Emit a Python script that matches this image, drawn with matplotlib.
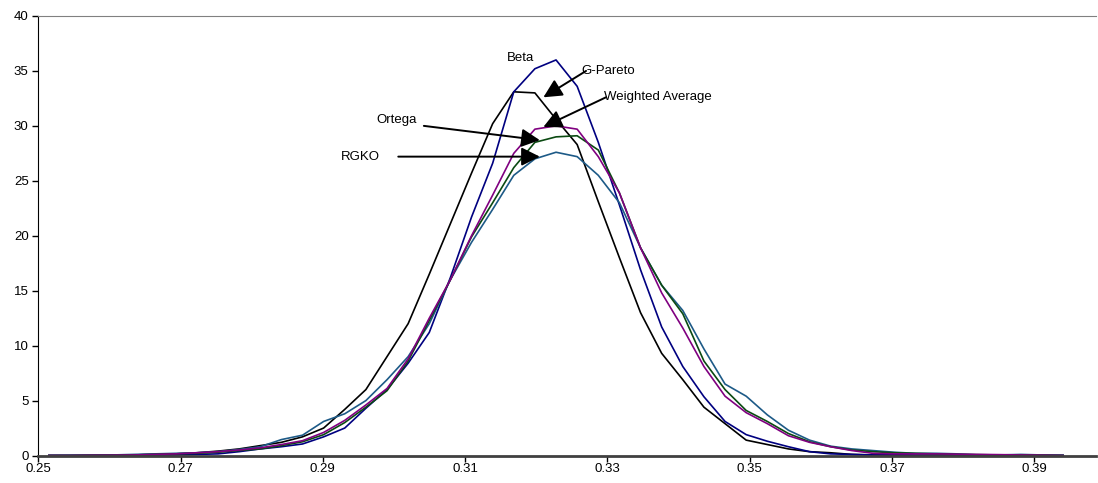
import numpy as np
import matplotlib
matplotlib.use('Agg')
import matplotlib.pyplot as plt

plt.rcParams['font.family'] = ['Liberation Sans', 'DejaVu Sans']

# bin centres of the estimated densities
x = np.round(0.2515 + 0.00297 * np.arange(49), 5)

g_pareto = [0, 0, 0.02, 0.05, 0.05, 0.1, 0.15, 0.25, 0.4, 0.6, 0.9, 1.2, 1.7, 2.5, 4.2,
            6.0, 9.0, 12.0, 16.5, 21.1, 25.7, 30.2, 33.1, 33.0, 30.6, 28.3, 23.1, 18.0,
            13.0, 9.3, 6.9, 4.4, 2.9, 1.4, 1.0, 0.6, 0.35, 0.25, 0.1, 0.05, 0.05, 0.02,
            0.02, 0.02, 0.02, 0.01, 0.01, 0, 0]
beta = [0, 0, 0, 0.02, 0.03, 0.03, 0.05, 0.1, 0.15, 0.35, 0.6, 0.8, 1.05, 1.7, 2.5,
        4.3, 6.0, 8.4, 11.2, 16.2, 21.7, 26.6, 33.1, 35.2, 36.0, 33.6, 28.5, 22.8,
        16.9, 11.7, 8.1, 5.35, 3.1, 1.9, 1.3, 0.8, 0.35, 0.15, 0.1, 0.05, 0.05, 0.03,
        0.03, 0.02, 0.02, 0.02, 0.05, 0.02, 0]
rgko = [0, 0.02, 0.03, 0.05, 0.1, 0.15, 0.2, 0.25, 0.35, 0.55, 0.8, 1.45, 1.85, 3.1,
        3.8, 5.0, 6.9, 9.0, 12.0, 16.0, 19.4, 22.4, 25.5, 27.0, 27.6, 27.2, 25.5, 23.0,
        18.9, 15.5, 13.2, 9.7, 6.5, 5.4, 3.7, 2.3, 1.4, 0.85, 0.6, 0.45, 0.3, 0.2, 0.2,
        0.15, 0.05, 0.05, 0.1, 0.05, 0.02]
ortega = [0, 0, 0.02, 0.03, 0.05, 0.1, 0.15, 0.2, 0.3, 0.45, 0.6, 0.9, 1.25, 1.9, 3.0,
          4.4, 5.9, 8.6, 12.3, 16.0, 19.9, 23.0, 26.2, 28.5, 29.0, 29.1, 27.8, 23.9,
          18.9, 15.5, 12.9, 8.6, 6.0, 4.1, 3.1, 2.0, 1.25, 0.8, 0.5, 0.35, 0.25, 0.2,
          0.15, 0.1, 0.08, 0.05, 0.05, 0.03, 0]
weighted = [0, 0, 0.02, 0.03, 0.05, 0.1, 0.15, 0.25, 0.35, 0.5, 0.7, 1.0, 1.35, 2.1,
            3.2, 4.6, 6.1, 8.8, 12.5, 16.0, 20.0, 23.7, 27.5, 29.7, 30.0, 29.7, 27.2,
            23.9, 18.9, 14.8, 11.6, 8.1, 5.4, 3.9, 2.9, 1.8, 1.2, 0.8, 0.45, 0.2, 0.15,
            0.15, 0.15, 0.12, 0.1, 0.08, 0.05, 0.03, 0]

xticks = [0.25, 0.27, 0.29, 0.31, 0.33, 0.35, 0.37, 0.39]
yticks = [0, 5, 10, 15, 20, 25, 30, 35, 40]

fig = plt.figure(figsize=(10.98, 4.83), dpi=100)
ax = fig.add_axes([0.0349, 0.0569, 0.9631, 0.91])

ax.plot(x, g_pareto, color='black', lw=1.2)
ax.plot(x, beta, color='#000080', lw=1.2)
ax.plot(x, rgko, color='#1d5a87', lw=1.2)
ax.plot(x, ortega, color='#0b4a12', lw=1.2)
ax.plot(x, weighted, color='#800080', lw=1.2)

ax.set_xlim(0.25, 0.39866)
ax.set_ylim(0, 40)
ax.set_xticks(xticks)
ax.set_xticklabels(['%.2f' % v for v in xticks])
ax.set_yticks(yticks)
ax.tick_params(axis='both', direction='out', labelsize=9.5, length=4, width=1,
               colors='black')
ax.tick_params(axis='x', pad=1.5)
ax.tick_params(axis='y', pad=3)

ax.spines['right'].set_visible(False)
ax.spines['top'].set_color('#808080')
ax.spines['left'].set_color('black')
ax.spines['bottom'].set_color('#404040')
ax.spines['bottom'].set_linewidth(2)

arrow = dict(arrowstyle='-|>', color='black', lw=1.4, mutation_scale=28,
             shrinkA=0, shrinkB=0)

fs = 9.5
ax.text(0.3178, 36.2, 'Beta', fontsize=fs, ha='center', va='center')
ax.annotate('', xy=(0.3210, 32.6), xytext=(0.3270, 35.0), arrowprops=arrow)
ax.text(0.3264, 35.0, 'G-Pareto', fontsize=fs, ha='left', va='center')
ax.annotate('', xy=(0.3210, 29.9), xytext=(0.3298, 32.6), arrowprops=arrow)
ax.text(0.3295, 32.6, 'Weighted Average', fontsize=fs, ha='left', va='center')
ax.text(0.3004, 30.5, 'Ortega', fontsize=fs, ha='center', va='center')
ax.annotate('', xy=(0.3205, 28.7), xytext=(0.3042, 30.0), arrowprops=arrow)
ax.text(0.2953, 27.2, 'RGKO', fontsize=fs, ha='center', va='center')
ax.annotate('', xy=(0.3205, 27.2), xytext=(0.3006, 27.2), arrowprops=arrow)

fig.savefig('out.png', dpi=100)
